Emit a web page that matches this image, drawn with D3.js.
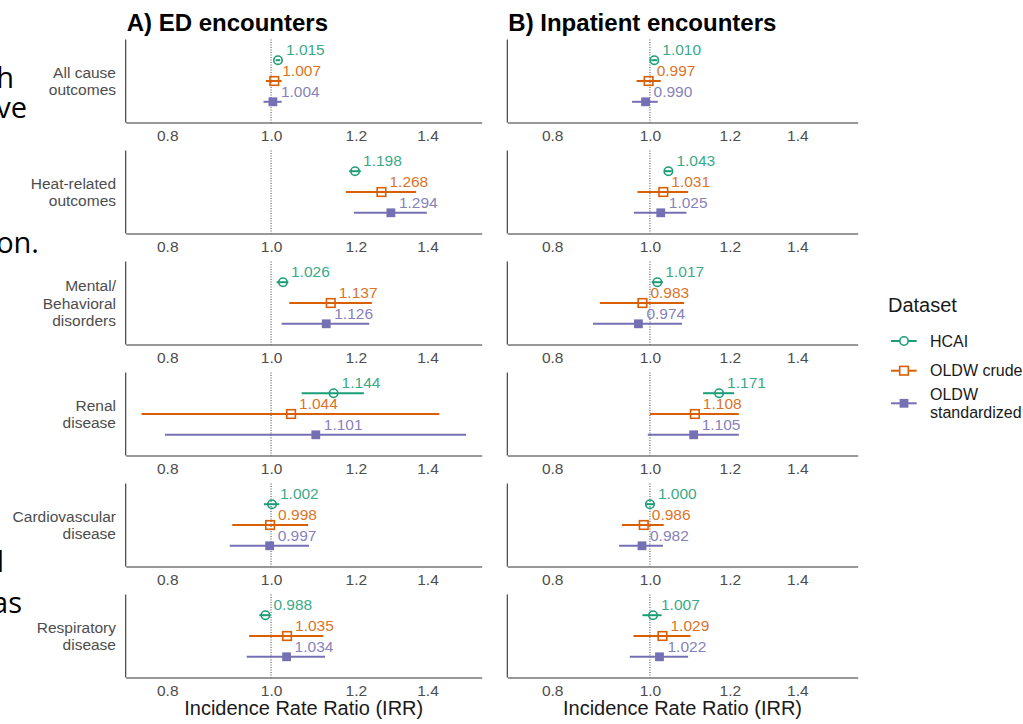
<!DOCTYPE html>
<html>
<head>
<meta charset="utf-8">
<script src="https://cdn.jsdelivr.net/npm/d3@7"></script>
<style>
  body { margin: 0; background: #fff; }
  svg { font-family: "Liberation Sans", Arial, sans-serif; }
</style>
</head>
<body>
<svg id="chart" width="1023" height="724"></svg>
<script>
// data
var outcomes = [
  ["All cause", "outcomes"],
  ["Heat-related", "outcomes"],
  ["Mental/", "Behavioral", "disorders"],
  ["Renal", "disease"],
  ["Cardiovascular", "disease"],
  ["Respiratory", "disease"]
];
var datasets = ["HCAI", "OLDW crude", "OLDW standardized"];
var colors = ["#1b9e77", "#d95f02", "#7570b3"];
var xTicks = [0.8, 1.0, 1.2, 1.4];

// A) ED encounters : rows = outcomes, cols = datasets
var edIrr  = [[1.015, 1.007, 1.004], [1.198, 1.268, 1.294], [1.026, 1.137, 1.126],
              [1.144, 1.044, 1.101], [1.002, 0.998, 0.997], [0.988, 1.035, 1.034]];
var edLow  = [[1.010, 0.989, 0.984], [1.183, 1.175, 1.195], [1.012, 1.040, 1.023],
              [1.068, 0.757, 0.796], [0.985, 0.920, 0.915], [0.975, 0.954, 0.949]];
var edHigh = [[1.020, 1.023, 1.023], [1.213, 1.366, 1.398], [1.038, 1.242, 1.235],
              [1.221, 1.436, 1.521], [1.018, 1.083, 1.085], [0.999, 1.119, 1.123]];

// B) Inpatient encounters
var ipIrr  = [[1.010, 0.997, 0.990], [1.043, 1.031, 1.025], [1.017, 0.983, 0.974],
              [1.171, 1.108, 1.105], [1.000, 0.986, 0.982], [1.007, 1.029, 1.022]];
var ipLow  = [[1.003, 0.970, 0.960], [1.035, 0.972, 0.964], [1.004, 0.892, 0.878],
              [1.129, 1.000, 0.995], [0.989, 0.938, 0.932], [0.983, 0.963, 0.955]];
var ipHigh = [[1.017, 1.025, 1.018], [1.051, 1.091, 1.087], [1.030, 1.081, 1.076],
              [1.212, 1.225, 1.225], [1.011, 1.032, 1.030], [1.027, 1.097, 1.091]];

var svg = d3.select("#chart");

var rowBand = d3.scaleBand()
    .domain(d3.range(outcomes.length))
    .range([39.5, 677.5])
    .paddingInner(28 / 111)
    .paddingOuter(0);

var dodge = d3.scalePoint()
    .domain(datasets)
    .range([-20.8, 20.8]);

function drawPanel(title, x0, x1, domain, irr, low, high, showYLabels) {
  var x = d3.scaleLog().domain(domain).range([x0, x1]);
  var g = svg.append("g");

  g.append("text")
      .attr("x", x0 + 1)
      .attr("y", 30.5)
      .attr("font-size", 24)
      .attr("font-weight", "bold")
      .attr("fill", "#000")
      .text(title);

  outcomes.forEach(function(lines, i) {
    var top = rowBand(i), bot = top + rowBand.bandwidth(), mid = top + rowBand.bandwidth() / 2;
    var row = g.append("g");

    // reference line at IRR = 1
    row.append("line")
        .attr("x1", x(1)).attr("x2", x(1))
        .attr("y1", top).attr("y2", bot)
        .attr("stroke", "#444")
        .attr("stroke-width", 1)
        .attr("stroke-dasharray", "1,1.5");

    // left axis line
    row.append("line")
        .attr("x1", x0).attr("x2", x0)
        .attr("y1", top).attr("y2", bot)
        .attr("stroke", "#333")
        .attr("stroke-width", 1.1);

    var ax = row.append("g")
        .attr("transform", "translate(0," + bot + ")")
        .call(d3.axisBottom(x).tickValues(xTicks).tickFormat(d3.format(".1f"))
              .tickSize(0).tickSizeOuter(0).tickPadding(7.5));
    ax.select(".domain").attr("stroke", "#333").attr("stroke-width", 1.1);
    ax.selectAll("text")
        .attr("font-size", 15.5)
        .attr("fill", "#4d4d4d")
        .attr("font-family", "Liberation Sans, Arial, sans-serif");

    if (showYLabels) {
      var n = lines.length;
      row.append("text")
          .attr("text-anchor", "end")
          .attr("font-size", 15.5)
          .attr("fill", "#4d4d4d")
        .selectAll("tspan")
        .data(lines)
        .enter().append("tspan")
          .attr("x", 116)
          .attr("y", function(d, k) { return mid + 5.5 + (k - (n - 1) / 2) * 17.3; })
          .text(function(d) { return d; });
    }

    datasets.forEach(function(ds, j) {
      var y = mid + dodge(ds), c = colors[j], v = irr[i][j];
      row.append("line")
          .attr("x1", x(low[i][j])).attr("x2", x(high[i][j]))
          .attr("y1", y).attr("y2", y)
          .attr("stroke", c)
          .attr("stroke-width", 2);
      if (j === 0) {
        row.append("circle")
            .attr("cx", x(v)).attr("cy", y).attr("r", 4.2)
            .attr("fill", "none").attr("stroke", c).attr("stroke-width", 1.6);
      } else if (j === 1) {
        row.append("rect")
            .attr("x", x(v) - 4.3).attr("y", y - 4.3)
            .attr("width", 8.6).attr("height", 8.6)
            .attr("fill", "none").attr("stroke", c).attr("stroke-width", 1.6);
      } else {
        row.append("rect")
            .attr("x", x(v) - 4.4).attr("y", y - 4.4)
            .attr("width", 8.8).attr("height", 8.8)
            .attr("fill", c);
      }
      row.append("text")
          .attr("x", x(v) + 8)
          .attr("y", y - 5)
          .attr("font-size", 15.5)
          .attr("fill", c)
          .attr("fill-opacity", 0.9)
          .text(d3.format(".3f")(v));
    });
  });

  g.append("text")
      .attr("x", (x0 + x1) / 2)
      .attr("y", 715)
      .attr("text-anchor", "middle")
      .attr("font-size", 20)
      .attr("fill", "#1a1a1a")
      .text("Incidence Rate Ratio (IRR)");
}

drawPanel("A) ED encounters", 125.7, 481.7, [0.7316, 1.573], edIrr, edLow, edHigh, true);
drawPanel("B) Inpatient encounters", 507.3, 857.7, [0.722, 1.607], ipIrr, ipLow, ipHigh, false);

// legend
var legend = svg.append("g").attr("transform", "translate(888,0)");
legend.append("text")
    .attr("x", 0).attr("y", 312)
    .attr("font-size", 20)
    .attr("fill", "#1a1a1a")
    .text("Dataset");

var keyY = [341, 370.7, 403.3];
var keyLabels = [["HCAI"], ["OLDW crude"], ["OLDW", "standardized"]];
datasets.forEach(function(ds, j) {
  var k = legend.append("g").attr("transform", "translate(0," + keyY[j] + ")");
  k.append("line")
      .attr("x1", 3).attr("x2", 28.7)
      .attr("stroke", colors[j]).attr("stroke-width", 2);
  if (j === 0) {
    k.append("circle").attr("cx", 16).attr("r", 4.2)
        .attr("fill", "#fff").attr("stroke", colors[j]).attr("stroke-width", 1.6);
  } else if (j === 1) {
    k.append("rect").attr("x", 11.7).attr("y", -4.3).attr("width", 8.6).attr("height", 8.6)
        .attr("fill", "#fff").attr("stroke", colors[j]).attr("stroke-width", 1.6);
  } else {
    k.append("rect").attr("x", 11.6).attr("y", -4.4).attr("width", 8.8).attr("height", 8.8)
        .attr("fill", colors[j]);
  }
  var lines = keyLabels[j];
  k.append("text")
      .attr("font-size", 16)
      .attr("fill", "#1a1a1a")
    .selectAll("tspan")
    .data(lines)
    .enter().append("tspan")
      .attr("x", 42)
      .attr("y", function(d, i) { return 5.6 + (i - (lines.length - 1) / 2) * 18.3; })
      .text(function(d) { return d; });
});

// fragments of slide text cut off at the left edge
var fragments = [
  {t: "h", x: 14, y: 88},
  {t: "ve", x: 27, y: 118},
  {t: "on.", x: 39, y: 253},
  {t: "l", x: 4, y: 572},
  {t: "as", x: 22, y: 613}
];
svg.append("g")
    .attr("font-family", "Open Sans, sans-serif")
    .attr("font-size", 29)
    .attr("fill", "#000")
  .selectAll("text")
  .data(fragments)
  .enter().append("text")
    .attr("x", function(d) { return d.x; })
    .attr("y", function(d) { return d.y; })
    .attr("text-anchor", "end")
    .text(function(d) { return d.t; });
</script>
</body>
</html>
